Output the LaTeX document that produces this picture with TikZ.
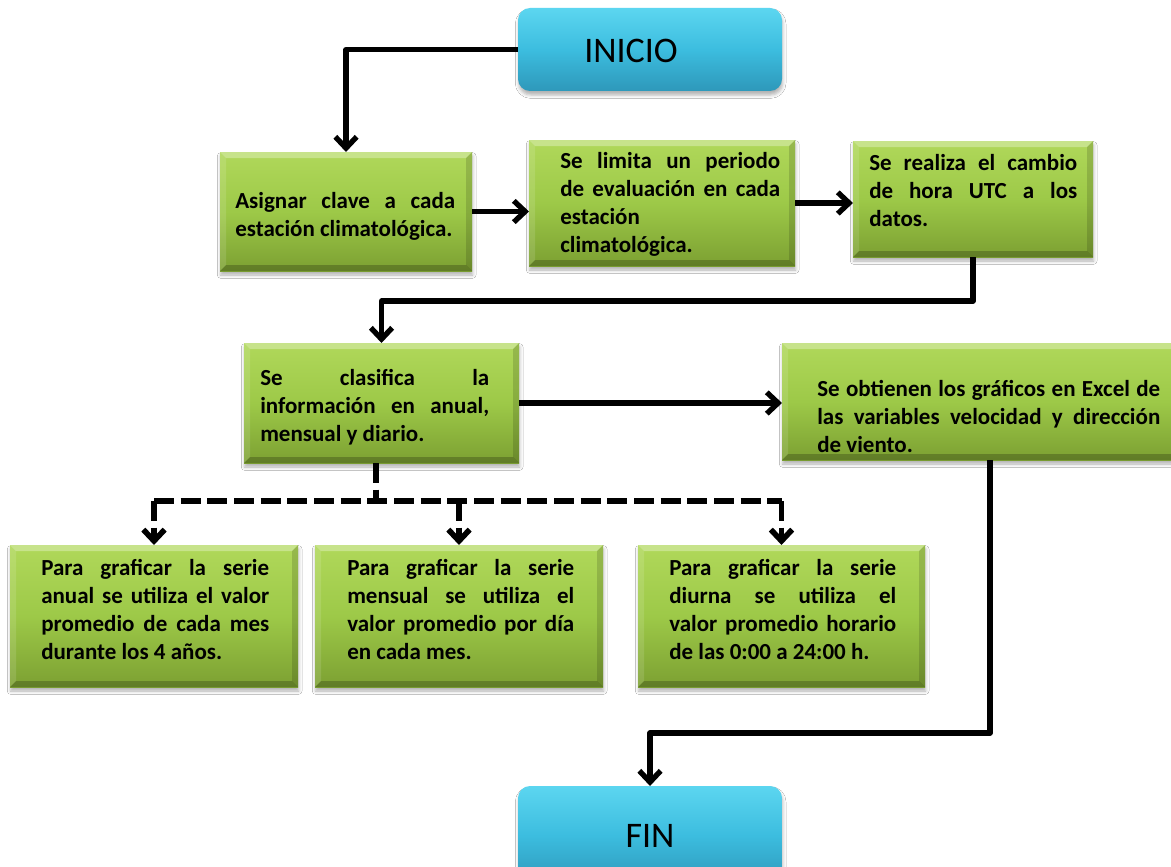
\documentclass[tikz,border=0pt]{standalone}
\usepackage{fontspec}
\setmainfont{Carlito}
\usetikzlibrary{arrows.meta,calc,fit,shadows.blur}

\definecolor{gtop}{RGB}{176,216,90}
\definecolor{gmid}{RGB}{157,201,72}
\definecolor{gbot}{RGB}{124,160,50}
\definecolor{btop}{RGB}{92,214,240}
\definecolor{bmid}{RGB}{60,189,223}
\definecolor{bbot}{RGB}{46,152,186}

% one justified line and one left-aligned line of a box text
\newcommand\jfull[1]{\makebox[\linewidth][s]{#1}\par}
\newcommand\jleft[1]{\makebox[\linewidth][l]{#1}\par}

% bevelled edges of a green box
\newcommand\bevel[2]{%
  \fill[white,opacity=0.30] (#1.north west) -- (#1.north east) -- ($(#1.north east)+(-#2,#2)$) -- ($(#1.north west)+(#2,#2)$) -- cycle;
  \fill[white,opacity=0.12] (#1.north west) -- ($(#1.north west)+(#2,#2)$) -- ($(#1.south west)+(#2,-#2)$) -- (#1.south west) -- cycle;
  \fill[black,opacity=0.14] (#1.north east) -- (#1.south east) -- ($(#1.south east)+(-#2,-#2)$) -- ($(#1.north east)+(-#2,#2)$) -- cycle;
  \fill[black,opacity=0.22] (#1.south west) -- ($(#1.south west)+(#2,-#2)$) -- ($(#1.south east)+(-#2,-#2)$) -- (#1.south east) -- cycle;
}

\tikzset{
  gbox/.style={rectangle, inner sep=0pt, outer sep=0pt, top color=gtop, bottom color=gbot, middle color=gmid,
    blur shadow={shadow xshift=0.5pt, shadow yshift=-3pt, shadow opacity=30, shadow blur radius=2.5pt}},
  bbox/.style={rectangle, rounded corners=9pt, inner sep=0pt, outer sep=0pt, top color=btop, bottom color=bbot, middle color=bmid,
    blur shadow={shadow xshift=0.5pt, shadow yshift=-3pt, shadow opacity=30, shadow blur radius=2.5pt}},
  txt/.style={inner sep=0pt, anchor=base west, font=\bfseries\fontsize{17.25pt}{21pt}\selectfont},
  ttl/.style={inner sep=0pt, anchor=base, font=\fontsize{27pt}{30pt}\selectfont},
  conn/.style={line width=4pt, line join=round, -{Straight Barb[length=8.5pt,width=16pt]}},
  dconn/.style={line width=4.2pt, dash pattern=on 15pt off 5pt},
}

\begin{document}
\begin{tikzpicture}[x=0.75pt,y=-0.75pt]
\useasboundingbox (0,0) rectangle (1171,867);
\fill[white] (0,0) rectangle (1171,867);

% start and end
\node[bbox, fit={(518,8) (782,91)}] (ini) {};
\node[ttl] (tini) at (631,63) {INICIO};
\node[bbox, fit={(518,786) (782,885)}] (fin) {};
\node[ttl] (tfin) at (650,847) {FIN};

% process boxes
\node[gbox, fit={(220,152) (472,271)}] (b1) {};
\node[gbox, fit={(529,140) (795,266)}] (b2) {};
\node[gbox, fit={(853,141) (1093,257)}] (b3) {};
\node[gbox, fit={(244,343) (519,463)}] (b4) {};
\node[gbox, fit={(782,343) (1198,460)}] (b5) {};
\node[gbox, fit={(10,545) (298,687)}] (b6) {};
\node[gbox, fit={(315,545) (603,687)}] (b7) {};
\node[gbox, fit={(638,545) (925,687)}] (b8) {};
\foreach \b in {b1,b2,b3,b4,b5,b6,b7,b8} {\bevel{\b}{6}}

% box texts
\node[txt] (t1) at (235,208) {\parbox[t]{165pt}{%
  \jfull{Asignar clave a cada}\jleft{estación climatológica.}}};
\node[txt] (t2) at (560,168) {\parbox[t]{165pt}{%
  \jfull{Se limita un periodo}\jfull{de evaluación en cada}\jleft{estación}\jleft{climatológica.}}};
\node[txt] (t3) at (869,170) {\parbox[t]{156pt}{%
  \jfull{Se realiza el cambio}\jfull{de hora UTC a los}\jleft{datos.}}};
\node[txt] (t4) at (260,385) {\parbox[t]{171.75pt}{%
  \jfull{Se clasifica la}\jfull{información en anual,}\jleft{mensual y diario.}}};
\node[txt] (t5) at (817,396) {\parbox[t]{257.25pt}{%
  \jfull{Se obtienen los gráficos en Excel de}\jfull{las variables velocidad y dirección}\jleft{de viento.}}};
\node[txt] (t6) at (41,575) {\parbox[t]{171pt}{%
  \jfull{Para graficar la serie}\jfull{anual se utiliza el valor}\jfull{promedio de cada mes}\jleft{durante los 4 años.}}};
\node[txt] (t7) at (347,575) {\parbox[t]{170.25pt}{%
  \jfull{Para graficar la serie}\jfull{mensual se utiliza el}\jfull{valor promedio por día}\jleft{en cada mes.}}};
\node[txt] (t8) at (669,575) {\parbox[t]{170.25pt}{%
  \jfull{Para graficar la serie}\jfull{diurna se utiliza el}\jfull{valor promedio horario}\jleft{de las 0:00 a 24:00 h.}}};

% solid connectors
\draw[conn] (ini.west) -| (b1.north);
\draw[conn] (b1.east) -- (b1.east -| b2.west);
\draw[conn] (b2.east) -- (b2.east -| b3.west);
\draw[conn] (b3.south) -- ++(0,44) -| (b4.north);
\draw[conn] (b4.east) -- (b4.east -| b5.west);
\draw[conn] (b5.south) -- ++(0,273) -| (fin.north);

% dashed branches
\coordinate (split) at (376,501);
\draw[dconn] (split |- b4.south) -- (split);
\draw[dconn, line cap=butt] (b6.north |- split) -- (b8.north |- split);
\foreach \b in {b6,b7,b8} {\draw[conn, dconn] (\b.north |- split) -- (\b.north);}
\end{tikzpicture}
\end{document}
